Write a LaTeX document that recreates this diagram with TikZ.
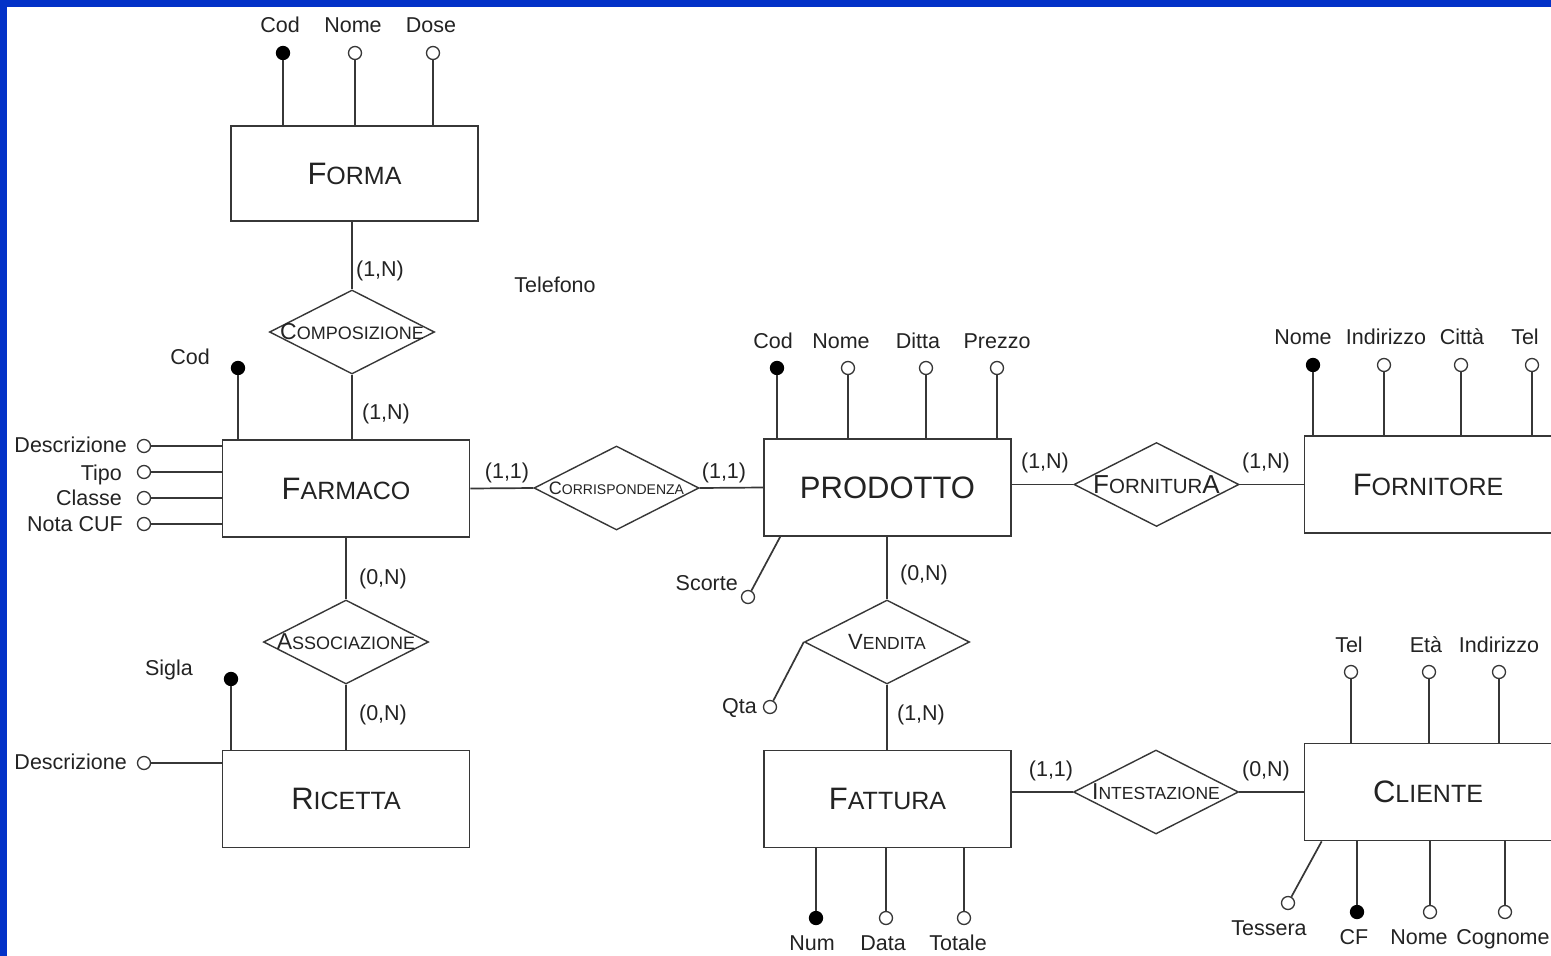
\documentclass[tikz,border=0pt]{standalone}
\usepackage{fontspec}
\setmainfont{Liberation Sans}
\usetikzlibrary{positioning,shapes.geometric}
\definecolor{lc}{RGB}{55,55,55}
\definecolor{tc}{RGB}{35,35,35}
\definecolor{bordo}{RGB}{3,50,200}
\newcommand{\smcap}[4]{{\fontsize{#1}{#1}\selectfont #3}{\fontsize{#2}{#2}\selectfont #4}}
\begin{document}
\begin{tikzpicture}[x=1pt,y=-1pt,
  ent/.style={draw=lc,line width=1.7pt,rectangle,minimum width=247pt,minimum height=97pt,inner sep=0pt,text=tc},
  rel/.style={draw=lc,line width=1.4pt,diamond,minimum width=165pt,minimum height=84pt,inner sep=0pt},
  ln/.style={draw=lc,line width=1.7pt},
  att/.style={draw=lc,circle,fill=white,line width=1.3pt,minimum size=13pt,inner sep=0pt},
  key/.style={att,fill=black,draw=black},
  lab/.style={text=tc,inner sep=0pt,text height=18pt,text depth=3pt,font=\fontsize{21.5}{22}\selectfont}]
\useasboundingbox (0,0) rectangle (1551,956);
\fill[bordo] (0,0) rectangle (1551,956);
\fill[white] (7,7) rectangle (1551,956);

% entita
\node[ent,minimum height=95pt] (forma) at (354.5,173.5) {\smcap{31}{25}{F}{ORMA}};
\node[ent] (farmaco) at (346,488.5) {\smcap{31}{25}{F}{ARMACO}};
\node[ent] (ricetta) at (346,799) {\smcap{31}{25}{R}{ICETTA}};
\node[ent] (prodotto) at (887.5,487.5) {{\fontsize{31}{31}\selectfont PRODOTTO}};
\node[ent] (fornitore) at (1428,484.5) {\smcap{31}{25}{F}{ORNITORE}};
\node[ent] (fattura) at (887.5,799) {\smcap{31}{25}{F}{ATTURA}};
\node[ent] (cliente) at (1428,792) {\smcap{31}{25}{C}{LIENTE}};

% relazioni
\node[rel,label={[text=tc]center:{\smcap{23}{18}{C}{OMPOSIZIONE}}}] (composizione) at (352,332) {};
\node[rel,label={[text=tc]center:{\smcap{18}{14}{C}{ORRISPONDENZA}}}] (corrispondenza) at (616.5,488) {};
\node[rel,label={[text=tc]center:{\smcap{26}{20.5}{F}{ORNITUR}{\fontsize{26}{26}\selectfont A}}}] (fornitura) at (1156.5,484.5) {};
\node[rel,label={[text=tc]center:{\smcap{22}{17.5}{V}{ENDITA}}}] (vendita) at (887,642) {};
\node[rel,label={[text=tc]center:{\smcap{23}{18}{A}{SSOCIAZIONE}}}] (associazione) at (346,642) {};
\node[rel,label={[text=tc]center:{\smcap{23}{17.5}{I}{NTESTAZIONE}}}] (intestazione) at (1156,792) {};

% collegamenti
\draw[ln] (composizione.north |- forma.south) -- (composizione.north);
\draw[ln] (composizione.south) -- (composizione.south |- farmaco.north);
\draw[ln] (farmaco.east) -- (corrispondenza.west);
\draw[ln] (corrispondenza.east) -- (prodotto.west);
\draw[ln] (prodotto.east |- fornitura.west) -- (fornitura.west);
\draw[ln] (fornitura.east) -- (fornitore.west);
\draw[ln] (farmaco.south) -- (associazione.north);
\draw[ln] (associazione.south) -- (ricetta.north);
\draw[ln] (vendita.north |- prodotto.south) -- (vendita.north);
\draw[ln] (vendita.south) -- (vendita.south |- fattura.north);
\draw[ln] (fattura.east |- intestazione.west) -- (intestazione.west);
\draw[ln] (intestazione.east) -- (cliente.west);

% cardinalita
\node[lab] (k1) at (380,269) {(1,N)};
\node[lab] (k2) at (386,412) {(1,N)};
\node[lab] (k3) at (507,471) {(1,1)};
\node[lab] (k4) at (724,471) {(1,1)};
\node[lab] (k5) at (1045,461) {(1,N)};
\node[lab] (k6) at (1266,461) {(1,N)};
\node[lab] (k7) at (383,577) {(0,N)};
\node[lab] (k8) at (383,713) {(0,N)};
\node[lab] (k9) at (924,573) {(0,N)};
\node[lab] (k10) at (921,713) {(1,N)};
\node[lab] (k11) at (1051,769) {(1,1)};
\node[lab] (k12) at (1266,769) {(0,N)};

\node[lab] (telefono) at (555,285) {Telefono};

% attributi forma
\node[key] (fo-cod) at (283,53) {};
\node[att] (fo-nome) at (355,53) {};
\node[att] (fo-dose) at (433,53) {};
\draw[ln] (fo-cod.south) -- (fo-cod |- forma.north);
\draw[ln] (fo-nome.south) -- (fo-nome |- forma.north);
\draw[ln] (fo-dose.south) -- (fo-dose |- forma.north);
\node[lab] (fo-cod-l) at (280,25) {Cod};
\node[lab] (fo-nome-l) at (353,25) {Nome};
\node[lab] (fo-dose-l) at (431,25) {Dose};

% attributi farmaco
\node[key] (fa-cod) at (238,368) {};
\draw[ln] (fa-cod.south) -- (fa-cod |- farmaco.north);
\node[lab] (fa-cod-l) at (190,357) {Cod};
\node[att] (fa-desc) at (144,446) {};
\node[att] (fa-tipo) at (144,472) {};
\node[att] (fa-cla) at (144,498) {};
\node[att] (fa-cuf) at (144,524) {};
\draw[ln] (fa-desc.east) -- (fa-desc -| farmaco.west);
\draw[ln] (fa-tipo.east) -- (fa-tipo -| farmaco.west);
\draw[ln] (fa-cla.east) -- (fa-cla -| farmaco.west);
\draw[ln] (fa-cuf.east) -- (fa-cuf -| farmaco.west);
\node[lab,anchor=east] (fa-desc-l) at (127,445) {Descrizione};
\node[lab,anchor=east] (fa-tipo-l) at (122,473) {Tipo};
\node[lab,anchor=east] (fa-cla-l) at (122,498) {Classe};
\node[lab,anchor=east] (fa-cuf-l) at (123,524) {Nota CUF};

% attributi ricetta
\node[key] (ri-sigla) at (231,679) {};
\draw[ln] (ri-sigla.south) -- (ri-sigla |- ricetta.north);
\node[lab] (ri-sigla-l) at (169,668) {Sigla};
\node[att] (ri-desc) at (144,763) {};
\draw[ln] (ri-desc.east) -- (ri-desc -| ricetta.west);
\node[lab,anchor=east] (ri-desc-l) at (127,762) {Descrizione};

% attributi prodotto
\node[key] (pr-cod) at (777,368) {};
\node[att] (pr-nome) at (848,368) {};
\node[att] (pr-ditta) at (926,368) {};
\node[att] (pr-prezzo) at (997,368) {};
\draw[ln] (pr-cod.south) -- (pr-cod |- prodotto.north);
\draw[ln] (pr-nome.south) -- (pr-nome |- prodotto.north);
\draw[ln] (pr-ditta.south) -- (pr-ditta |- prodotto.north);
\draw[ln] (pr-prezzo.south) -- (pr-prezzo |- prodotto.north);
\node[lab] (pr-cod-l) at (773,341) {Cod};
\node[lab] (pr-nome-l) at (841,341) {Nome};
\node[lab] (pr-ditta-l) at (918,341) {Ditta};
\node[lab] (pr-prezzo-l) at (997,341) {Prezzo};
\node[att] (pr-sco) at (748,597) {};
\draw[ln] ([xshift=17pt]prodotto.south west) -- (pr-sco);
\node[lab,anchor=east] (pr-sco-l) at (738,583) {Scorte};

% attributi fornitore
\node[key] (fn-nome) at (1313,365) {};
\node[att] (fn-ind) at (1384,365) {};
\node[att] (fn-citta) at (1461,365) {};
\node[att] (fn-tel) at (1532,365) {};
\draw[ln] (fn-nome.south) -- (fn-nome |- fornitore.north);
\draw[ln] (fn-ind.south) -- (fn-ind |- fornitore.north);
\draw[ln] (fn-citta.south) -- (fn-citta |- fornitore.north);
\draw[ln] (fn-tel.south) -- (fn-tel |- fornitore.north);
\node[lab] (fn-nome-l) at (1303,337) {Nome};
\node[lab] (fn-ind-l) at (1386,337) {Indirizzo};
\node[lab] (fn-citta-l) at (1462,337) {Città};
\node[lab] (fn-tel-l) at (1525,337) {Tel};

% attributo vendita
\node[att] (ve-qta) at (770,707) {};
\draw[ln] (vendita.west) -- (ve-qta);
\node[lab,anchor=east] (ve-qta-l) at (757,706) {Qta};

% attributi fattura
\node[key] (ft-num) at (816,918) {};
\node[att] (ft-data) at (886,918) {};
\node[att] (ft-tot) at (964,918) {};
\draw[ln] (ft-num.north) -- (ft-num |- fattura.south);
\draw[ln] (ft-data.north) -- (ft-data |- fattura.south);
\draw[ln] (ft-tot.north) -- (ft-tot |- fattura.south);
\node[lab] (ft-num-l) at (812,943) {Num};
\node[lab] (ft-data-l) at (883,943) {Data};
\node[lab] (ft-tot-l) at (958,943) {Totale};

% attributi cliente
\node[att] (cl-tel) at (1351,672) {};
\node[att] (cl-eta) at (1429,672) {};
\node[att] (cl-ind) at (1499,672) {};
\draw[ln] (cl-tel.south) -- (cl-tel |- cliente.north);
\draw[ln] (cl-eta.south) -- (cl-eta |- cliente.north);
\draw[ln] (cl-ind.south) -- (cl-ind |- cliente.north);
\node[lab] (cl-tel-l) at (1349,645) {Tel};
\node[lab] (cl-eta-l) at (1426,645) {Età};
\node[lab] (cl-ind-l) at (1499,645) {Indirizzo};
\node[att] (cl-tess) at (1288,903) {};
\draw[ln] ([xshift=18pt]cliente.south west) -- (cl-tess);
\node[lab] (cl-tess-l) at (1269,928) {Tessera};
\node[key] (cl-cf) at (1357,912) {};
\node[att] (cl-nome) at (1430,912) {};
\node[att] (cl-cogn) at (1505,912) {};
\draw[ln] (cl-cf.north) -- (cl-cf |- cliente.south);
\draw[ln] (cl-nome.north) -- (cl-nome |- cliente.south);
\draw[ln] (cl-cogn.north) -- (cl-cogn |- cliente.south);
\node[lab] (cl-cf-l) at (1354,937) {CF};
\node[lab] (cl-nome-l) at (1419,937) {Nome};
\node[lab] (cl-cogn-l) at (1503,937) {Cognome};
\end{tikzpicture}
\end{document}
